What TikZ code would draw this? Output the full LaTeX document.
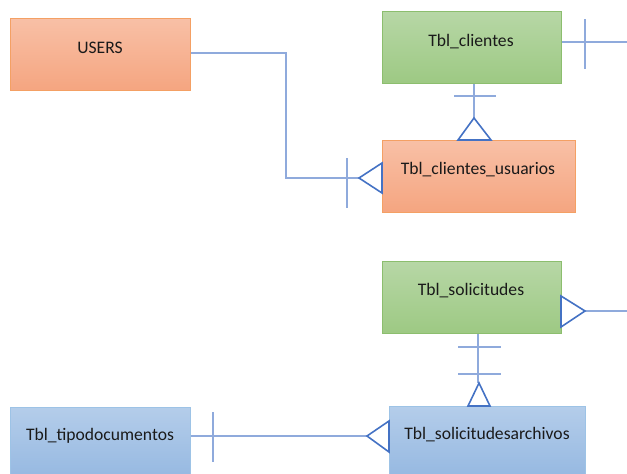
\documentclass[tikz,border=0pt]{standalone}
\usepackage{fontspec}
\setmainfont{Carlito}
\definecolor{orTop}{RGB}{248,192,166}
\definecolor{orBot}{RGB}{245,165,128}
\definecolor{orLine}{RGB}{244,160,100}
\definecolor{grTop}{RGB}{183,215,166}
\definecolor{grBot}{RGB}{157,201,131}
\definecolor{grLine}{RGB}{140,190,110}
\definecolor{blTop}{RGB}{180,205,234}
\definecolor{blBot}{RGB}{149,184,225}
\definecolor{blLine}{RGB}{157,195,230}
\definecolor{lnLight}{RGB}{143,170,220}
\definecolor{lnDark}{RGB}{68,114,196}
\definecolor{txt}{RGB}{26,26,26}
\begin{document}
\begin{tikzpicture}[x=1pt,y=-1pt,
  entity/.style={draw, line width=1pt, minimum height=72pt, inner sep=0pt, anchor=north west},
  orbox/.style={entity, draw=orLine, top color=orTop, bottom color=orBot},
  grbox/.style={entity, draw=grLine, top color=grTop, bottom color=grBot},
  blbox/.style={entity, draw=blLine, top color=blTop, bottom color=blBot},
  lbl/.style={font=\fontsize{17.6}{20}\selectfont, text=txt},
  conn/.style={draw=lnLight, line width=1.1pt},
  crow/.style={draw=lnDark, line width=1.6pt, line join=miter}]
\useasboundingbox (0,0) rectangle (627,474);
% boxes
\node[orbox, minimum width=180pt] (users) at (10,18) {};
\node[grbox, minimum width=179pt] (cli) at (382,11) {};
\node[orbox, minimum width=193pt] (cu) at (382,140) {};
\node[grbox, minimum width=179pt] (sol) at (382,261) {};
\node[blbox, minimum width=196pt] (arch) at (389,406) {};
\node[blbox, minimum width=180pt] (tipo) at (10,407) {};
% labels
\node[lbl] (tUsers) at (100,48) {USERS};
\node[lbl] (tCli) at (471,42) {Tbl\_clientes};
\node[lbl] (tCu) at (478,170) {Tbl\_clientes\_usuarios};
\node[lbl] (tSol) at (471,291) {Tbl\_solicitudes};
\node[lbl] (tArch) at (487,435) {Tbl\_solicitudesarchivos};
\node[lbl] (tTipo) at (100,436) {Tbl\_tipodocumentos};
% coordinates
\coordinate (cuApex) at (359,178);
\coordinate (cliApex) at (474,118);
\coordinate (solApex) at (585,311);
\coordinate (archApex) at (479,383);
\coordinate (archLApex) at (367,436);
\coordinate (rightA) at (627,42);
\coordinate (rightB) at (627,311);
% USERS -> clientes_usuarios
\draw[conn] (users.east |- 0,53) -- (286,53) -- (286,178) -- (cuApex);
\draw[conn] (347,158) -- (347,208);
\draw[crow] (382,163) -- (cuApex) -- (382,193) -- cycle;
% clientes -> clientes_usuarios
\draw[conn] (cli.south -| cliApex) -- (cliApex);
\draw[conn] (454,96) -- (496,96);
\draw[crow] (458,140) -- (cliApex) -- (491,140) -- cycle;
% clientes right
\draw[conn] (cli.east |- rightA) -- (rightA);
\draw[conn] (585,19) -- (585,69);
% solicitudes right
\draw[conn] (solApex) -- (rightB);
\draw[crow] (561,296) -- (solApex) -- (561,327) -- cycle;
% solicitudes -> archivos
\draw[conn] (sol.south -| 478,0) -- (478,383);
\draw[conn] (458,347) -- (501,347);
\draw[conn] (458,374) -- (501,374);
\draw[crow] (468,406) -- (archApex) -- (490,406) -- cycle;
% tipodocumentos -> archivos
\draw[conn] (tipo.east |- archLApex) -- (archLApex);
\draw[conn] (213,412) -- (213,462);
\draw[crow] (389,421) -- (archLApex) -- (389,452) -- cycle;
\end{tikzpicture}
\end{document}
